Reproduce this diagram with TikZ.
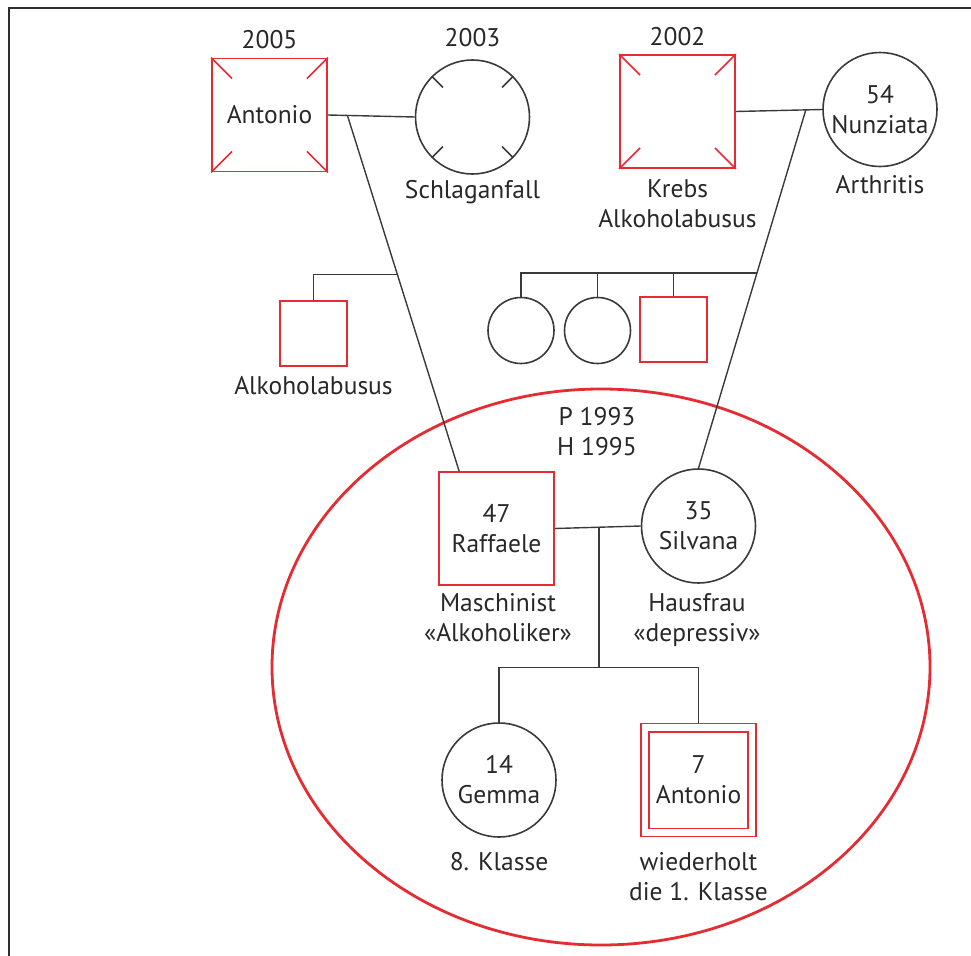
\documentclass[tikz,border=0pt]{standalone}
\usepackage{fontspec}
\setmainfont{PT Sans}
\usetikzlibrary{calc,shapes.geometric}
\definecolor{pedred}{RGB}{228,44,50}
\definecolor{ink}{RGB}{58,58,58}
\definecolor{txt}{RGB}{40,40,40}
\tikzset{
  every node/.style={text=txt,font=\fontsize{25.5}{30}\selectfont,align=center,inner sep=0pt},
  line/.style={draw=ink,line width=1.4pt},
  male/.style={rectangle,draw=pedred,line width=1.8pt,minimum width=115pt,minimum height=113pt},
  female/.style={circle,draw=ink,line width=1.6pt,minimum size=114pt},
  smallmale/.style={rectangle,draw=pedred,line width=1.8pt,minimum width=67pt,minimum height=65pt},
  smallfemale/.style={circle,draw=ink,line width=1.6pt,minimum size=66pt},
  tick/.style={line width=1.6pt},
  lbl/.style={}
}
\begin{document}
\begin{tikzpicture}[x=1pt,y=-1pt]
\useasboundingbox (0,0) rectangle (971,955);
% page frame
\draw[draw=ink!80!black,line width=2.6pt] (9,960) -- (9,8) -- (975,8);

% household circle
\draw[pedred,line width=2.8pt] (601,667) ellipse [x radius=329, y radius=278];

% grandparents, paternal side
\node[male] (gfa) at (269.5,115) {Antonio};
\node[lbl] (gfay) at (269.5,40) {2005};
\node[female] (gma) at (472.5,117) {};
\node[lbl] (gmay) at (472.5,38) {2003};
\node[lbl,anchor=north] (gmal) at (472.5,180) {Schlaganfall};

% grandparents, maternal side
\node[male] (mgf) at (677.5,111.5) {};
\node[lbl] (mgfy) at (677.5,37) {2002};
\node[lbl,anchor=north] (mgfl) at (677.5,179) {Krebs\\Alkoholabusus};
\node[female] (mgm) at (880,109.5) {54\\Nunziata};
\node[lbl,anchor=north] (mgml) at (880,175) {Arthritis};

% deceased marks
\foreach \n in {gfa,mgf}{
  \draw[pedred,tick] (\n.north west) -- ++(21,21);
  \draw[pedred,tick] (\n.north east) -- ++(-21,21);
  \draw[pedred,tick] (\n.south west) -- ++(21,-21);
  \draw[pedred,tick] (\n.south east) -- ++(-21,-21);
}
\foreach \a in {45,135,225,315}
  \draw[ink,tick] (gma.\a) -- ($(gma.\a)!16pt!(gma.center)$);

% uncles and aunts
\node[smallmale] (unc) at (313.5,333.5) {};
\node[lbl,anchor=north] (uncl) at (313.5,376) {Alkoholabusus};
\node[smallfemale] (aunta) at (521,330.5) {};
\node[smallfemale] (auntb) at (597.5,330.5) {};
\node[smallmale] (uncb) at (673.5,329.5) {};

% parents
\node[male] (fa) at (496.5,528.5) {47\\Raffaele};
\node[lbl,anchor=north] (fal) at (498,593) {Maschinist\\«Alkoholiker»};
\node[female] (mo) at (698.5,526) {35\\Silvana};
\node[lbl,anchor=north] (mol) at (697,593) {Hausfrau\\«depressiv»};
\node[lbl] (wed) at (597,432) {P 1993\\H 1995};

% children
\node[female] (dau) at (499,780) {14\\Gemma};
\node[lbl,anchor=north] (daul) at (499,852) {8. Klasse};
\node[male] (son) at (698.5,780) {7\\Antonio};
\draw[pedred,line width=1.8pt] ($(son.north west)+(9,9)$) rectangle ($(son.south east)+(-9,-9)$);
\node[lbl,anchor=north] (sonl) at (698.5,852) {wiederholt\\die 1. Klasse};

% paternal couple and descent
\draw[line] (gfa.east) -- (gma.west);
\coordinate (pj) at ($(gfa.east)!0.225!(gma.west)$);
\coordinate (fatop) at ($(fa.north west)!0.18!(fa.north east)$);
\draw[line] (pj) -- (fatop);
\coordinate (ps) at ($(pj)!0.448!(fatop)$);
\draw[line] (ps) -| (unc.north);

% maternal couple and descent
\draw[line] (mgf.east) -- (mgm.west);
\coordinate (mj) at ($(mgf.east)!0.81!(mgm.west)$);
\draw[line] (mj) -- (mo.north);
\coordinate (ms) at ($(mj)!0.455!(mo.north)$);
\draw[line] (ms) -- (aunta.north |- ms) -- (aunta.north);
\draw[line] (auntb.north |- ms) -- (auntb.north);
\draw[line] (uncb.north |- ms) -- (uncb.north);

% parents' union and children
\draw[line] (fa.east) -- (mo.west);
\coordinate (cj) at ($(fa.east)!0.514!(mo.west)$);
\coordinate (cl) at ($(cj)+(0,140)$);
\draw[line] (cj) -- (cl);
\draw[line] (dau.north) |- (cl) -| (son.north);
\end{tikzpicture}
\end{document}
